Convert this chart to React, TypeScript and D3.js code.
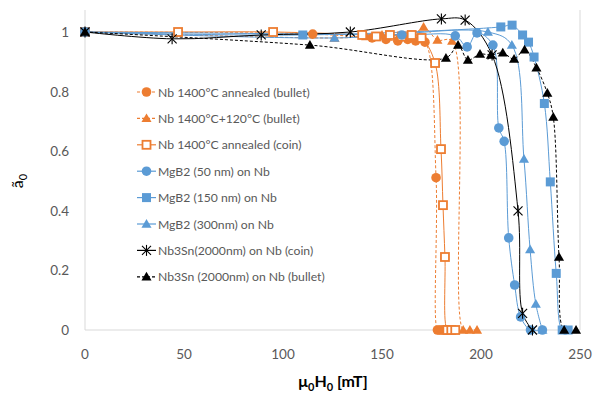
import React from 'react';
import * as d3 from 'd3';

// field values (mT) and normalised a0
const nbBulletX = [0, 115, 145, 152, 158, 163, 167, 171.7, 177.3, 178, 179, 180, 181, 182, 183, 184, 185];
const nbBulletY = [1, 0.993, 0.98, 0.975, 0.97, 0.975, 0.97, 0.966, 0.511, 0, 0, 0, 0, 0, 0, 0, 0];

const nb120X = [0, 126, 142, 150, 158, 165, 171, 178, 185.4, 191, 194.4, 198];
const nb120Y = [1, 0.98, 0.985, 0.99, 0.98, 0.98, 1.017, 0.973, 0.97, 0, 0, 0];

const nbCoinX = [0, 47, 95, 140, 147, 154, 160, 165, 170, 176.8, 179.8, 180.8, 181.8, 183, 185, 187];
const nbCoinY = [1, 1.0, 1.0, 0.99, 0.985, 0.99, 0.985, 0.99, 0.98, 0.896, 0.607, 0.419, 0.245, 0, 0, 0];

const mg50X = [0, 160, 187, 193, 198, 206, 209, 211.7, 214, 217, 220, 225, 231];
const mg50Y = [1, 0.99, 0.987, 0.95, 0.997, 0.956, 0.678, 0.633, 0.309, 0.151, 0.044, 0, 0];

const mg150X = [0, 110, 210, 215.7, 221, 224, 226.8, 232, 235, 238, 241, 244];
const mg150Y = [1, 0.99, 1.017, 1.023, 0.99, 0.966, 0.916, 0.76, 0.497, 0.19, 0, 0];

const mg300X = [0, 126, 203.5, 215.6, 221.7, 224.8, 227.7, 231];
const mg300Y = [1, 0.98, 1.0, 0.956, 0.574, 0.27, 0.087, 0];

const snCoinX = [0, 44, 89, 134, 180, 192, 205.6, 218.7, 221, 226];
const snCoinY = [1, 0.977, 0.99, 1.0, 1.044, 1.04, 0.923, 0.4, 0.056, 0];

const snBulletX = [0, 113.6, 182.3, 188.4, 193.4, 199.5, 205, 211, 216.7, 222, 228, 233.5, 236.5, 239.4, 242, 248];
const snBulletY = [1, 0.956, 0.913, 0.956, 0.906, 0.926, 0.923, 0.93, 0.909, 0.94, 0.88, 0.795, 0.715, 0.245, 0, 0];

const seriesNames = [
  'Nb 1400°C annealed (bullet)',
  'Nb 1400°C+120°C (bullet)',
  'Nb 1400°C  annealed (coin)',
  'MgB2 (50 nm) on Nb',
  'MgB2 (150 nm) on Nb',
  'MgB2 (300nm) on Nb',
  'Nb3Sn(2000nm) on Nb (coin)',
  'Nb3Sn (2000nm) on Nb (bullet)',
];
const seriesX = [nbBulletX, nb120X, nbCoinX, mg50X, mg150X, mg300X, snCoinX, snBulletX];
const seriesY = [nbBulletY, nb120Y, nbCoinY, mg50Y, mg150Y, mg300Y, snCoinY, snBulletY];

const xTicks = [0, 50, 100, 150, 200, 250];
const yTicks = [0, 0.2, 0.4, 0.6, 0.8, 1];

const ORANGE = '#ED7D31';
const BLUE = '#5B9BD5';
const BLACK = '#000000';

const styles = [
  { color: ORANGE, marker: 'circle', dash: '3,2' },
  { color: ORANGE, marker: 'triangle', dash: '3,2' },
  { color: ORANGE, marker: 'square-open', dash: '' },
  { color: BLUE, marker: 'circle', dash: '' },
  { color: BLUE, marker: 'square', dash: '' },
  { color: BLUE, marker: 'triangle', dash: '' },
  { color: BLACK, marker: 'star', dash: '' },
  { color: BLACK, marker: 'triangle', dash: '3,2' },
];

const FONT = 'Lato, "Liberation Sans", sans-serif';

function Marker({ kind, color, cx, cy }: { kind: string; color: string; cx: number; cy: number }) {
  if (kind === 'circle') return <circle cx={cx} cy={cy} r={4.8} fill={color} />;
  if (kind === 'square') return <rect x={cx - 4.5} y={cy - 4.5} width={9} height={9} fill={color} />;
  if (kind === 'square-open')
    return <rect x={cx - 4} y={cy - 4} width={8} height={8} fill="white" stroke={color} strokeWidth={1.8} />;
  if (kind === 'triangle') {
    const p = d3.symbol(d3.symbolTriangle, 44)();
    return <path d={p as string} transform={`translate(${cx},${cy + 0.8})`} fill={color} />;
  }
  // star = x plus vertical bar
  const s = 4.5;
  return (
    <g stroke={color} strokeWidth={1.1}>
      <line x1={cx - s} y1={cy - s} x2={cx + s} y2={cy + s} />
      <line x1={cx - s} y1={cy + s} x2={cx + s} y2={cy - s} />
      <line x1={cx} y1={cy - s - 1} x2={cx} y2={cy + s + 1} />
    </g>
  );
}

export default function App() {
  const width = 594;
  const height = 396;
  const x = d3.scaleLinear().domain([0, 250]).range([85, 580]);
  const y = d3.scaleLinear().domain([0, 1]).range([330, 32]);
  const plotTop = 10;

  const line = d3
    .line<[number, number]>()
    .x((d) => x(d[0]))
    .y((d) => y(d[1]))
    .curve(d3.curveCatmullRom.alpha(0.5));

  const legendX = 137;
  const legendY0 = 92;
  const legendStep = 26.4;

  return (
    <svg width={width} height={height} style={{ position: 'absolute', left: 0, top: 0 }} fontFamily={FONT}>
      <rect width={width} height={height} fill="white" />
      {/* axes */}
      <line x1={x(0)} x2={x(0)} y1={plotTop} y2={y(0)} stroke="#d9d9d9" />
      <line x1={x(250)} x2={x(250)} y1={plotTop} y2={y(0)} stroke="#d9d9d9" />
      <line x1={x(0)} x2={x(250)} y1={y(0)} y2={y(0)} stroke="#d9d9d9" />
      {xTicks.map((t) => (
        <text key={t} x={x(t)} y={359} textAnchor="middle" fontSize={13.5} fill="#595959">
          {t}
        </text>
      ))}
      {yTicks.map((t) => (
        <text key={t} x={69} y={y(t) + 5} textAnchor="end" fontSize={13.5} fill="#595959">
          {t}
        </text>
      ))}
      <text x={333} y={387} textAnchor="middle" fontSize={16} fontWeight="bold" fill="#000">
        μ<tspan fontSize={11} dy={4}>0</tspan>
        <tspan dy={-4}>H</tspan>
        <tspan fontSize={11} dy={4}>0</tspan>
        <tspan dy={-4}> [mT]</tspan>
      </text>
      <text transform={`translate(23,181) rotate(-90)`} textAnchor="middle" fontSize={16} fill="#000">
        ã<tspan fontSize={11} dy={4}>0</tspan>
      </text>

      {/* series lines */}
      {seriesX.map((xs, i) => {
        const pts = xs.map((v, j) => [v, seriesY[i][j]] as [number, number]);
        return (
          <path
            key={'l' + i}
            d={line(pts) as string}
            fill="none"
            stroke={styles[i].color}
            strokeWidth={1}
            strokeDasharray={styles[i].dash}
          />
        );
      })}
      {/* markers */}
      {seriesX.map((xs, i) => (
        <g key={'m' + i}>
          {xs.map((v, j) => (
            <Marker key={j} kind={styles[i].marker} color={styles[i].color} cx={x(v)} cy={y(seriesY[i][j])} />
          ))}
        </g>
      ))}

      {/* legend */}
      {seriesNames.map((name, i) => {
        const ly = legendY0 + i * legendStep;
        return (
          <g key={'lg' + i}>
            <line
              x1={legendX}
              x2={legendX + 19}
              y1={ly}
              y2={ly}
              stroke={styles[i].color}
              strokeWidth={1.2}
              strokeDasharray={styles[i].dash}
            />
            <Marker kind={styles[i].marker} color={styles[i].color} cx={legendX + 9.5} cy={ly} />
            <text x={legendX + 21} y={ly + 4.5} fontSize={12.2} fill="#595959">
              {name}
            </text>
          </g>
        );
      })}
    </svg>
  );
}
